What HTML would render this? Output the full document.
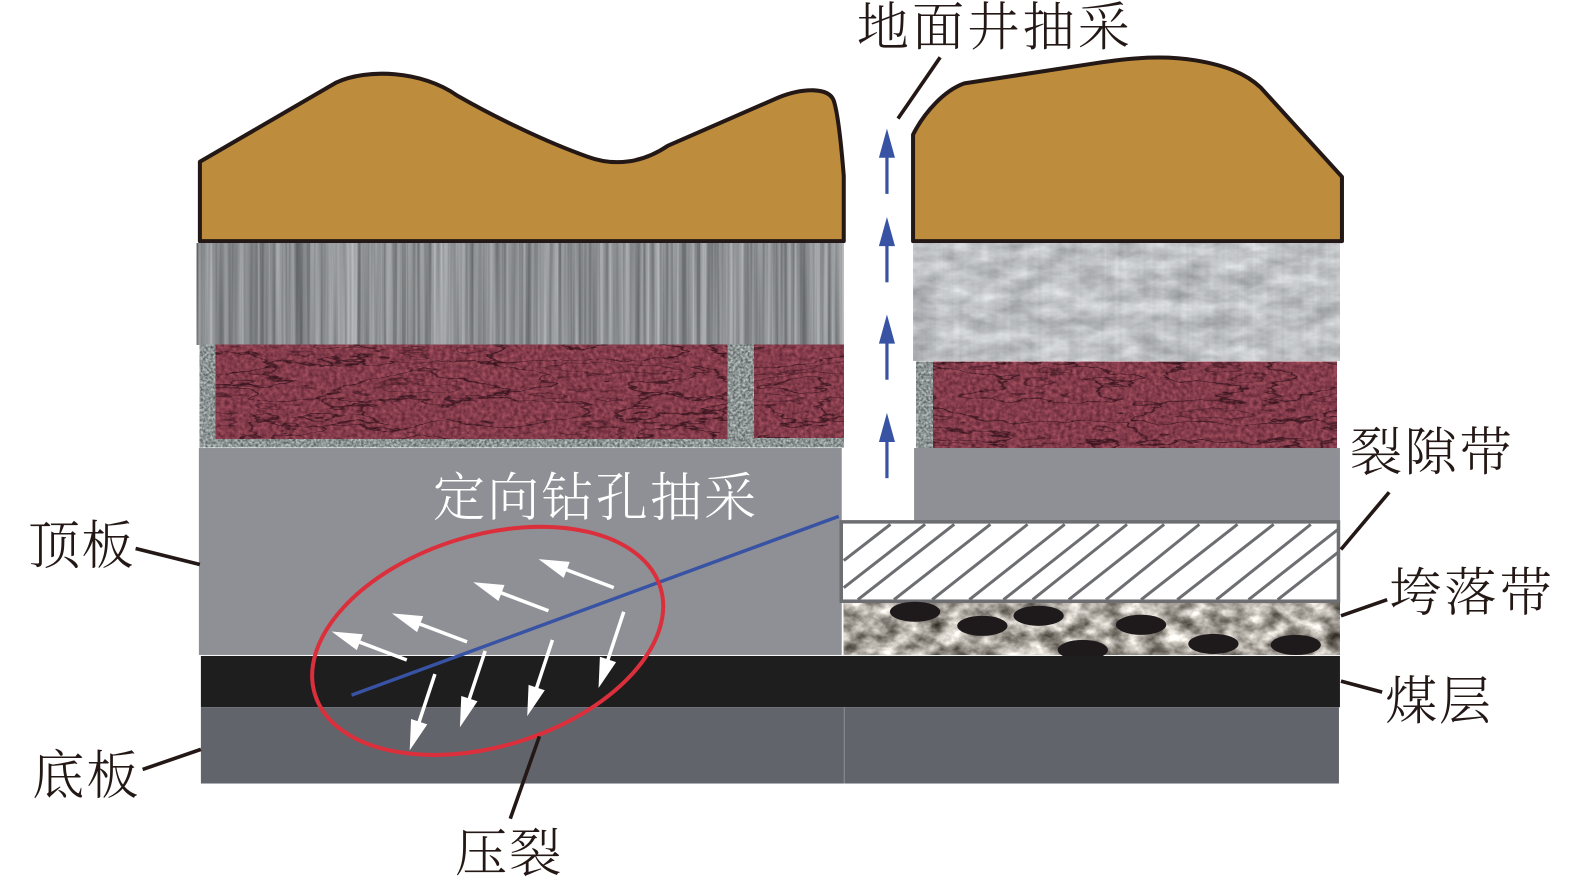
<!DOCTYPE html>
<html><head><meta charset="utf-8"><style>
html,body{margin:0;padding:0;background:#fff;width:1575px;height:881px;overflow:hidden}
svg{display:block}
text{font-family:"Liberation Serif","Noto Serif CJK SC",serif;font-size:52px;fill:#231815;font-weight:300}
</style></head><body>
<svg width="1575" height="881" viewBox="0 0 1568 877" xmlns="http://www.w3.org/2000/svg">
<defs>
<filter id="metal" x="0" y="0" width="100%" height="100%" color-interpolation-filters="sRGB">
<feTurbulence type="fractalNoise" baseFrequency="0.22 0.002" numOctaves="3" seed="4"/>
<feColorMatrix type="matrix" values="0.5 0 0 0 0.3  0.5 0 0 0 0.31  0.5 0 0 0 0.32  0 0 0 0 1"/>
</filter>
<filter id="metal2" x="0" y="0" width="100%" height="100%" color-interpolation-filters="sRGB">
<feTurbulence type="fractalNoise" baseFrequency="0.03 0.07" numOctaves="4" seed="9"/>
<feColorMatrix type="matrix" values="0.45 0 0 0 0.56  0.45 0 0 0 0.57  0.45 0 0 0 0.58  0 0 0 0 1"/>
</filter>
<filter id="brick" x="0" y="0" width="100%" height="100%" color-interpolation-filters="sRGB">
<feTurbulence type="fractalNoise" baseFrequency="0.25" numOctaves="2" seed="3"/>
<feColorMatrix type="matrix" values="0.4 0 0 0 0.32  0.25 0 0 0 0.11  0.25 0 0 0 0.17  0 0 0 0 1" result="b2"/>
<feTurbulence type="fractalNoise" baseFrequency="0.011 0.05" numOctaves="5" seed="12"/>
<feColorMatrix type="matrix" values="0 0 0 0 0  0 0 0 0 0  0 0 0 0 0  1 0 0 0 0" result="m"/>
<feComponentTransfer in="m" result="c"><feFuncA type="table" tableValues="0 0 0 0 0 0 0 0 0 0 0 0 0 0 0 0 0 0 0 0.9 0 0 0 0 0 0 0 0.6 0 0 0 0 0 0 0 0 0 0 0 0"/></feComponentTransfer>
<feFlood flood-color="#2c0f18"/>
<feComposite in2="c" operator="in" result="dark"/>
<feMerge><feMergeNode in="b2"/><feMergeNode in="dark"/></feMerge>
</filter>
<filter id="grout" x="0" y="0" width="100%" height="100%" color-interpolation-filters="sRGB">
<feTurbulence type="fractalNoise" baseFrequency="0.4" numOctaves="2" seed="5"/>
<feColorMatrix type="matrix" values="0.7 0 0 0 0.2  0.7 0 0 0 0.23  0.7 0 0 0 0.23  0 0 0 0 1"/>
</filter>
<filter id="rubble" x="0" y="0" width="100%" height="100%" color-interpolation-filters="sRGB">
<feTurbulence type="fractalNoise" baseFrequency="0.05 0.07" numOctaves="4" seed="21"/>
<feColorMatrix type="matrix" values="1.2 0 0 0 0.07  1.2 0 0 0 0.05  1.2 0 0 0 0.02  0 0 0 0 1"/>
</filter>
<g id="w">
<line x1="0" y1="0" x2="56" y2="0" stroke="#fff" stroke-width="3.5"/>
<polygon points="80,0 50,-8.5 50,8.5" fill="#fff"/>
</g>
<g id="b">
<line x1="0" y1="0" x2="0" y2="-40" stroke="#3953a4" stroke-width="3.2"/>
<polygon points="0,-65 -8,-36 8,-36" fill="#3953a4"/>
</g>
</defs>

<!-- brown -->
<path d="M199,161 L335,82 C365,68 420,70 455,95 C490,115 540,140 585,156 C612,166 640,162 665,145 L775,97 C800,87 825,87 830,100 C835,115 838,150 840,175 L840,240 L199,240 Z" fill="#bd8c3c" stroke="#231815" stroke-width="4" stroke-linejoin="round"/>
<path d="M909,240 L909,134 C920,112 940,90 960,83 L1090,63 C1130,57 1160,55 1190,60 C1220,65 1240,73 1255,87 L1336,176 L1336,240 Z" fill="#bd8c3c" stroke="#231815" stroke-width="4" stroke-linejoin="round"/>

<!-- metal rock -->
<rect x="196" y="242" width="644" height="101" filter="url(#metal)"/>
<rect x="909" y="242" width="425" height="117" filter="url(#metal2)"/>
<rect x="909" y="242" width="425" height="117" filter="url(#metal)" opacity="0.15"/>

<!-- brick -->
<rect x="199" y="343" width="641" height="102" filter="url(#grout)"/>
<rect x="215" y="343" width="509" height="94" filter="url(#brick)"/>
<rect x="751" y="343" width="89" height="93" filter="url(#brick)"/>
<rect x="912" y="360" width="419" height="86" filter="url(#grout)"/>
<rect x="929" y="360" width="402" height="86" filter="url(#brick)"/>

<!-- roof -->
<rect x="198" y="446" width="640" height="206" fill="#8f9095"/>
<rect x="910" y="446" width="424" height="73" fill="#8f9095"/>

<!-- caved -->
<rect x="840" y="600" width="494" height="52" filter="url(#rubble)"/>
<rect x="838" y="598" width="496" height="2" fill="#8f9095"/>

<!-- hatched -->
<rect x="838" y="519" width="495" height="79" fill="#fff"/>
<g stroke="#6d6e71" stroke-width="3" fill="none">
<line x1="886.5" y1="522" x2="840" y2="558"/>
<line x1="921" y1="522" x2="840" y2="585"/>
<line x1="950" y1="522" x2="854" y2="597"/>
<line x1="986" y1="522" x2="890" y2="597"/>
<line x1="1023" y1="522" x2="928" y2="597"/>
<line x1="1060" y1="522" x2="965" y2="597"/>
<line x1="1094" y1="522" x2="999" y2="597"/>
<line x1="1122" y1="522" x2="1028" y2="597"/>
<line x1="1159" y1="522" x2="1064" y2="597"/>
<line x1="1194" y1="522" x2="1101" y2="597"/>
<line x1="1232" y1="522" x2="1136" y2="597"/>
<line x1="1268" y1="522" x2="1172" y2="597"/>
<line x1="1305" y1="522" x2="1211" y2="597"/>
<line x1="1332" y1="527" x2="1243" y2="597"/>
<line x1="1332" y1="550" x2="1272" y2="597"/>
</g>
<rect x="837.5" y="519.5" width="495" height="79" fill="none" stroke="#6d6e71" stroke-width="3.5"/>

<!-- ovals -->
<g fill="#1e1a1b">
<ellipse cx="911" cy="609" rx="25" ry="10"/>
<ellipse cx="978" cy="623" rx="25" ry="10"/>
<ellipse cx="1034" cy="613" rx="25" ry="10"/>
<ellipse cx="1136" cy="622" rx="25" ry="10"/>
<ellipse cx="1078" cy="647" rx="25" ry="10"/>
<ellipse cx="1208" cy="641" rx="25" ry="10"/>
<ellipse cx="1290" cy="642" rx="25" ry="10"/>
</g>

<!-- coal & floor -->
<rect x="200" y="653" width="1134" height="51" fill="#1e1e1f"/>
<rect x="200" y="704" width="1133" height="76" fill="#62646c"/>
<line x1="840.5" y1="704" x2="840.5" y2="780" stroke="#8f9095" stroke-width="1"/>

<!-- blue upward arrows -->
<use href="#b" x="883" y="193"/>
<use href="#b" x="883" y="281"/>
<use href="#b" x="883" y="378"/>
<use href="#b" x="883" y="476"/>

<!-- white arrows -->
<use href="#w" transform="translate(405,657) rotate(200.75)"/>
<use href="#w" transform="translate(465,639) rotate(200.75)"/>
<use href="#w" transform="translate(546,608) rotate(200.75)"/>
<use href="#w" transform="translate(611,585) rotate(200.75)"/>
<use href="#w" transform="translate(433,671) rotate(108.3)"/>
<use href="#w" transform="translate(483,648) rotate(108.3)"/>
<use href="#w" transform="translate(550,637) rotate(108.3)"/>
<use href="#w" transform="translate(621,609) rotate(108.3)"/>

<!-- ellipse & blue line -->
<line x1="350" y1="692" x2="835" y2="514" stroke="#3953a4" stroke-width="3.4"/>
<ellipse cx="485.5" cy="638" rx="180" ry="105" transform="rotate(-17.2 485.5 638)" fill="none" stroke="#dc2f3c" stroke-width="4"/>

<!-- leader lines -->
<g stroke="#231815" stroke-width="3.6" fill="none">
<line x1="894" y1="118" x2="936" y2="57"/>
<line x1="135" y1="546" x2="199" y2="562"/>
<line x1="142" y1="766" x2="200" y2="746"/>
<line x1="1335" y1="547" x2="1383" y2="490"/>
<line x1="1335" y1="613" x2="1381" y2="597"/>
<line x1="1335" y1="678" x2="1376" y2="689"/>
<line x1="537" y1="733" x2="508" y2="815"/>
</g>

<!-- labels -->
<text x="853" y="45" letter-spacing="3">地面井抽采</text>
<text x="431" y="513" letter-spacing="2" style="fill:#fff">定向钻孔抽采</text>
<text x="28" y="561" letter-spacing="1">顶板</text>
<text x="32" y="790" letter-spacing="2">底板</text>
<text x="1344" y="468" letter-spacing="2.5">裂隙带</text>
<text x="1383" y="608" letter-spacing="3">垮落带</text>
<text x="1379" y="716" letter-spacing="1.5">煤层</text>
<text x="453" y="867" letter-spacing="2">压裂</text>
</svg>
</body></html>
